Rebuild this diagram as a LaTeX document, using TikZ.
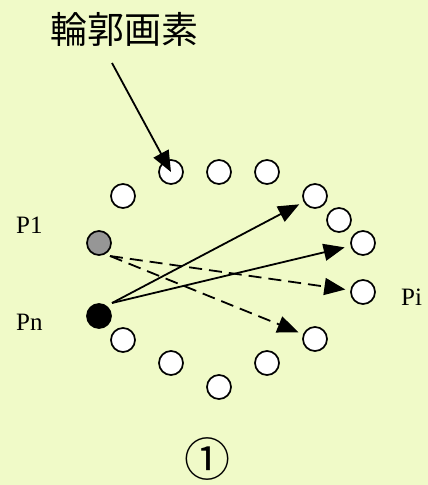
\documentclass[tikz,border=0pt]{standalone}
\usepackage{fontspec}
\setmainfont{Liberation Serif}
\newfontfamily\cjk{Noto Sans CJK JP}
\usetikzlibrary{arrows.meta}
\definecolor{bgcol}{RGB}{240,250,200}
\definecolor{graypx}{RGB}{150,150,150}
\begin{document}
\begin{tikzpicture}[x=1pt,y=-1pt,
  px/.style={circle,draw=black,line width=1.7pt,fill=white,minimum size=24pt,inner sep=0pt},
  conn/.style={line width=1.8pt,-{Triangle[length=21pt,width=17pt]}},
  dconn/.style={conn,dash pattern=on 13pt off 7pt},
  lab/.style={font=\fontsize{25}{25}\selectfont,anchor=base west,inner sep=0pt}]
\fill[bgcol] (0,0) rectangle (428,485);
\useasboundingbox (0,0) rectangle (428,485);
% contour pixels
\node[px] (t1) at (171,172) {};
\node[px] (t2) at (219,172) {};
\node[px] (t3) at (267,172) {};
\node[px] (l1) at (123,196) {};
\node[px,fill=graypx] (p1) at (99,243) {};
\node[px,fill=black] (pn) at (99,316) {};
\node[px] (b1) at (123,340) {};
\node[px] (b2) at (171,363) {};
\node[px] (b3) at (219,387) {};
\node[px] (b4) at (267,363) {};
\node[px] (b5) at (315,339) {};
\node[px] (r1) at (315,196) {};
\node[px] (r2) at (339,220) {};
\node[px] (r3) at (363,243) {};
\node[px] (r4) at (363,292) {};
% labels
\node[lab] (lp1) at (16,233) {P1};
\node[lab] (lpn) at (16,330) {Pn};
\node[lab] (lpi) at (401,305) {Pi};
\node[font=\cjk\fontsize{37}{37}\selectfont,inner sep=0pt] (title) at (124,29) {輪郭画素};
\node[font=\cjk\fontsize{46}{46}\selectfont,inner sep=0pt] (num) at (207,459) {①};
% connectors
\coordinate (tstart) at (112,63);
\coordinate (pnout) at (112,303);
\coordinate (p1out) at (110,256);
\draw[conn] (tstart) -- (t1.center);
\draw[conn,shorten >=5pt] (pnout) -- (r1);
\draw[conn,shorten >=6pt] (pnout) -- (r3);
\draw[dconn,shorten >=5pt] (p1out) -- (r4);
\draw[dconn,shorten >=5pt] (p1out) -- (b5);
\end{tikzpicture}
\end{document}
